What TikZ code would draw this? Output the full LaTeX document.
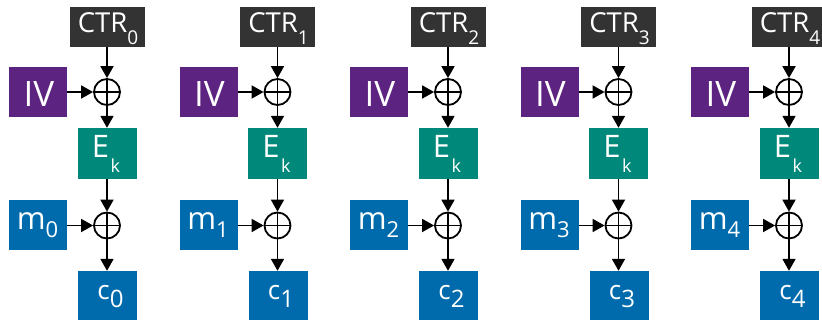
\documentclass[tikz,border=0pt]{standalone}
\usepackage{fontspec}
\setmainfont{Open Sans}
\usetikzlibrary{arrows.meta}
\definecolor{ctrc}{HTML}{333333}
\definecolor{ivc}{HTML}{5C2480}
\definecolor{ekc}{HTML}{00887A}
\definecolor{msgc}{HTML}{006BAC}
\tikzset{
  box/.style={draw=none,inner sep=0pt,minimum width=#1},
  txt/.style={inner sep=0pt,anchor=base,text=white},
  xorc/.style={circle,draw,line width=1.8pt,minimum size=26pt,inner sep=0pt},
  arr/.style={line width=1.8pt,-{Triangle[length=12pt,width=13pt]}},
}
\begin{document}
\begin{tikzpicture}[x=1pt,y=-1pt]
\useasboundingbox (0,0) rectangle (822,320);
\clip (0,0) rectangle (822,320);
\foreach \i in {0,...,4}{
\begin{scope}[xshift=\i*170.5pt]
  \node[box=75pt,minimum height=40pt,fill=ctrc] (ctr\i) at (107,27) {};
  \node[box=58pt,minimum height=50pt,fill=ivc] (iv\i) at (38,92) {};
  \node[box=59pt,minimum height=51pt,fill=ekc] (ek\i) at (107,153.5) {};
  \node[box=58pt,minimum height=50pt,fill=msgc] (m\i) at (38,225.5) {};
  \node[box=59pt,minimum height=49pt,fill=msgc] (c\i) at (107.5,295.5) {};
  \node[xorc] (xa\i) at (107,92) {};
  \node[xorc] (xb\i) at (107,225.5) {};
  \draw[line width=1.8pt] (xa\i.north) -- (xa\i.south) (xa\i.west) -- (xa\i.east);
  \draw[line width=1.8pt] (xb\i.north) -- (xb\i.south) (xb\i.west) -- (xb\i.east);
  \node[txt,font=\fontsize{27.5}{27.5}\selectfont] (ctrt\i) at (108,33) {CTR\raisebox{-12pt}{\fontsize{19}{19}\selectfont\i}};
  \node[txt,font=\fontsize{35}{35}\selectfont] (ivt\i) at (39,107) {IV};
  \node[txt,font=\fontsize{31}{31}\selectfont] (ekt\i) at (106,158) {E\kern1.5pt\raisebox{-15pt}{\fontsize{18}{18}\selectfont k}};
  \node[txt,font=\fontsize{31}{31}\selectfont] (mt\i) at (37.5,230) {m\raisebox{-8pt}{\fontsize{22}{22}\selectfont\i}};
  \node[txt,font=\fontsize{26}{26}\selectfont] (ct\i) at (110.5,300) {c\raisebox{-8pt}{\fontsize{24}{24}\selectfont\i}};
  \draw[arr] (ctr\i.south) -- (xa\i.north);
  \draw[arr] (iv\i.east) -- (xa\i.west);
  \draw[arr] (xa\i.south) -- (ek\i.north);
  \draw[arr] (ek\i.south) -- (xb\i.north);
  \draw[arr] (m\i.east) -- (xb\i.west);
  \draw[arr] (xb\i.south) -- (c\i.north -| xb\i.south);
\end{scope}
}
\end{tikzpicture}
\end{document}
